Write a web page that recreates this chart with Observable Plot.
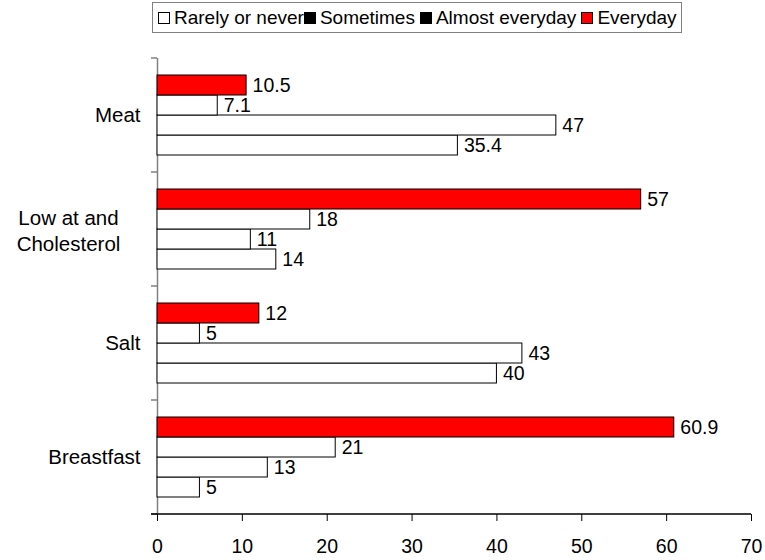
<!DOCTYPE html>
<html><head><meta charset="utf-8">
<script src="https://cdn.jsdelivr.net/npm/d3@7"></script>
<script src="https://cdn.jsdelivr.net/npm/@observablehq/plot@0.6"></script>
<style>
body{margin:0;background:#fff;font-family:"Liberation Sans",Arial,sans-serif;width:765px;height:560px;position:relative;overflow:hidden;}
#legend{position:absolute;left:152px;top:2px;height:31px;border:1px solid #808080;display:flex;align-items:center;padding:0 4px 0 5px;font-size:19px;white-space:nowrap;box-sizing:border-box;color:#000;}
#legend .sw{display:inline-block;width:12px;height:12px;border:1px solid #000;box-sizing:border-box;margin-right:4px;}
#chart{position:absolute;left:0;top:40px;}
</style></head><body>
<div id="legend"></div><div id="chart"></div>
<script>
// Data
const categories = ["Meat", "Low at and\nCholesterol", "Salt", "Breastfast"];
const series = ["Rarely or never", "Sometimes", "Almost everyday", "Everyday"];
const rarelyOrNever = [35.4, 14, 40, 5];
const sometimes = [47, 11, 43, 13];
const almostEveryday = [7.1, 18, 5, 21];
const everyday = [10.5, 57, 12, 60.9];
const xTicks = [0, 10, 20, 30, 40, 50, 60, 70];
const barColors = ["#ffffff", "#ffffff", "#ffffff", "#ff0000"];
const legendColors = ["#ffffff", "#000000", "#000000", "#ff0000"];

const seriesValues = [rarelyOrNever, sometimes, almostEveryday, everyday];
const data = categories.flatMap((c, i) => series.map((s, j) => ({cat: c, series: s, value: seriesValues[j][i]})));

// Legend
const legend = document.getElementById("legend");
series.forEach((s, i) => {
  const sw = document.createElement("span");
  sw.className = "sw";
  sw.style.background = legendColors[i];
  sw.style.marginLeft = i <= 1 ? "0px" : "5px";
  legend.appendChild(sw);
  legend.appendChild(document.createTextNode(s));
});

const singleLine = categories.filter(c => !c.includes("\n"));
const multiLine = categories.filter(c => c.includes("\n"));

const font = "Liberation Sans, Arial, sans-serif";
const svg = Plot.plot({
  width: 765,
  height: 520,
  marginTop: 17,
  marginBottom: 46,
  marginLeft: 157,
  marginRight: 14,
  style: {fontFamily: font, fontSize: "19px", background: "white", color: "black"},
  x: {domain: [0, 70], ticks: xTicks, label: null},
  fy: {domain: categories, padding: 0, label: null},
  y: {domain: [...series].reverse(), paddingInner: 0, paddingOuter: 0.75, axis: null},
  color: {domain: series, range: barColors},
  marks: [
    Plot.ruleX([0], {stroke: "#808080", strokeWidth: 1.5}),
    Plot.barX(data, {fy: "cat", y: "series", x: "value", fill: "series", stroke: "#000", strokeWidth: 1}),
    Plot.text(data, {fy: "cat", y: "series", x: "value", text: d => String(d.value), dx: 6, textAnchor: "start", fill: "#000", fontSize: 19.5}),
    Plot.axisX({ticks: xTicks, tickSize: 7, tickPadding: 18, stroke: "#000", fill: "#000", fontSize: 19.5, label: null, tickFormat: d => String(d)}),
    Plot.axisFy({ticks: singleLine, anchor: "left", tickSize: 0, tickPadding: 17, fill: "#000", fontSize: 20.5, label: null}),
    Plot.axisFy({ticks: multiLine, anchor: "left", tickSize: 0, tickPadding: 89, textAnchor: "middle", fill: "#000", fontSize: 20.5, label: null, lineHeight: 1.25})
  ]
});
document.getElementById("chart").appendChild(svg);

// Category separator ticks on the y axis and the x-axis base line, from Plot's scales
const fy = svg.scale("fy");
const xs = svg.scale("x");
const g = d3.select(svg).append("g").attr("stroke", "#808080").attr("stroke-width", 1.5);
const edges = categories.map(c => fy.apply(c)).concat([fy.apply(categories[categories.length - 1]) + fy.bandwidth]);
edges.forEach(y => g.append("line").attr("x1", xs.apply(0) - 6).attr("x2", xs.apply(0)).attr("y1", y).attr("y2", y));
const yb = edges[edges.length - 1];
d3.select(svg).append("line").attr("x1", xs.apply(0) - 6).attr("x2", xs.apply(70)).attr("y1", yb).attr("y2", yb).attr("stroke", "#000").attr("stroke-width", 1.5);
</script>
</body></html>
